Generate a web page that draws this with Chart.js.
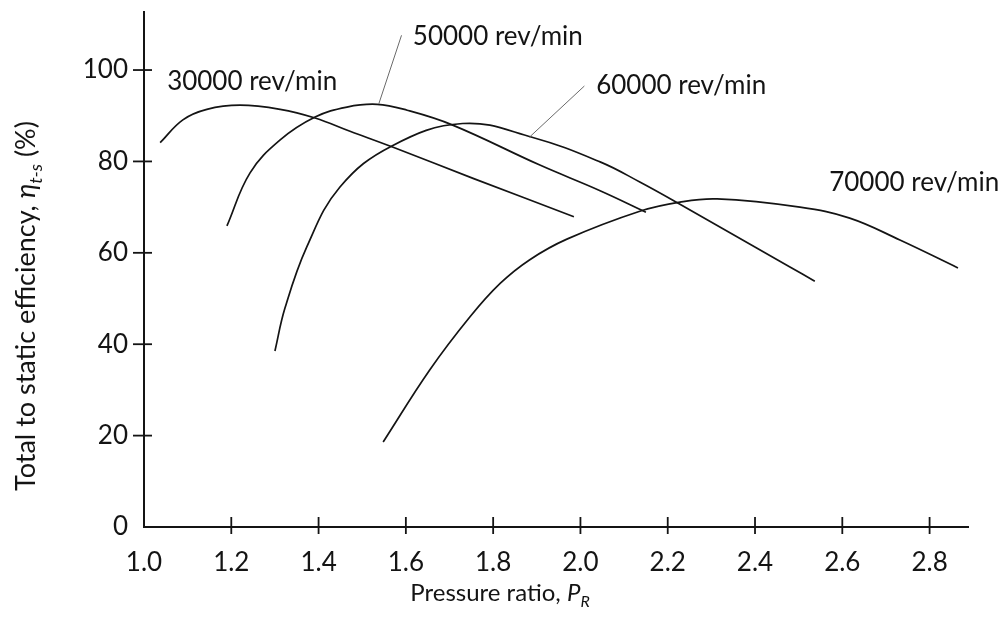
<!DOCTYPE html>
<html>
<head>
<meta charset="utf-8">
<script src="https://cdn.jsdelivr.net/npm/chart.js@4.4.1/dist/chart.umd.min.js"></script>
<style>
  html, body { margin: 0; padding: 0; background: #fff; }
  #wrap { width: 1008px; height: 629px; }
</style>
</head>
<body>
<div id="wrap"><canvas id="chart" width="1008" height="629"></canvas></div>
<script>
// Data: pressure ratio vs total-to-static efficiency (%)
const pr30000 = [1.037, 1.089, 1.144, 1.22, 1.312, 1.392, 1.472, 1.568, 1.754, 1.985];
const eff30000 = [84.1, 89.1, 91.4, 92.3, 91.4, 89.5, 86.6, 83.2, 76.3, 67.9];

const pr50000 = [1.19, 1.243, 1.312, 1.392, 1.465, 1.534, 1.603, 1.706, 1.907, 2.045, 2.15];
const eff50000 = [65.9, 77.5, 84.7, 89.7, 91.9, 92.5, 91.2, 88.0, 79.2, 73.6, 68.9];

const pr60000 = [1.30, 1.323, 1.373, 1.449, 1.568, 1.73, 1.889, 2.045, 2.136, 2.223, 2.48, 2.537];
const eff60000 = [38.5, 47.9, 61.3, 74.4, 83.4, 88.3, 85.3, 79.9, 75.5, 70.9, 56.9, 53.8];

const pr70000 = [1.548, 1.655, 1.747, 1.816, 1.884, 1.969, 2.136, 2.228, 2.313, 2.503, 2.617, 2.732, 2.865];
const eff70000 = [18.6, 34.4, 46.0, 53.3, 58.5, 63.0, 69.1, 71.1, 71.8, 70.0, 67.6, 62.8, 56.7];

const speedLabels = ['30000 rev/min', '50000 rev/min', '60000 rev/min', '70000 rev/min'];

const xTicks = [1.0, 1.2, 1.4, 1.6, 1.8, 2.0, 2.2, 2.4, 2.6, 2.8];
const yTicks = [0, 20, 40, 60, 80, 100];

const INK = '#141414';
const FONT = 'Lato, "Open Sans", sans-serif';

function toPoints(xs, ys) {
    return xs.map((x, i) => ({ x: x, y: ys[i] }));
}

function curve(xs, ys) {
    return {
        data: toPoints(xs, ys),
        showLine: true,
        borderColor: INK,
        borderWidth: 1.7,
        pointRadius: 0,
        tension: 0.4,
        fill: false
    };
}

// draw a run of text pieces (normal / italic / subscript) side by side
function drawRich(ctx, parts, x, y, align) {
    let total = 0;
    parts.forEach(p => {
        ctx.font = p.font;
        p.w = ctx.measureText(p.text).width;
        total += p.w;
    });
    let cx = align === 'center' ? x - total / 2 : x;
    parts.forEach(p => {
        ctx.font = p.font;
        ctx.fillText(p.text, cx, y + (p.dy || 0));
        cx += p.w;
    });
}

const decorations = {
    id: 'decorations',
    afterDraw(chart) {
        const ctx = chart.ctx;
        const xs = chart.scales.x;
        const ys = chart.scales.y;
        const area = chart.chartArea;
        ctx.save();

        // tick marks crossing the axis lines
        ctx.strokeStyle = INK;
        ctx.lineWidth = 1.8;
        xTicks.forEach(v => {
            if (v === 1.0) return;
            const px = xs.getPixelForValue(v);
            ctx.beginPath();
            ctx.moveTo(px, area.bottom - 10);
            ctx.lineTo(px, area.bottom + 7);
            ctx.stroke();
        });
        yTicks.forEach(v => {
            if (v === 0) return;
            const py = ys.getPixelForValue(v);
            ctx.beginPath();
            ctx.moveTo(area.left - 11, py);
            ctx.lineTo(area.left + 8, py);
            ctx.stroke();
        });

        // leader lines to the 50000 and 60000 curves
        ctx.strokeStyle = '#6a6a6a';
        ctx.lineWidth = 1;
        ctx.beginPath();
        ctx.moveTo(xs.getPixelForValue(1.590), ys.getPixelForValue(107.6));
        ctx.lineTo(xs.getPixelForValue(1.538), ys.getPixelForValue(92.6));
        ctx.moveTo(xs.getPixelForValue(2.009), ys.getPixelForValue(96.5));
        ctx.lineTo(xs.getPixelForValue(1.883), ys.getPixelForValue(85.3));
        ctx.stroke();

        // curve labels
        ctx.fillStyle = INK;
        ctx.textBaseline = 'middle';
        ctx.textAlign = 'left';
        ctx.font = '26px ' + FONT;
        ctx.fillText(speedLabels[0], xs.getPixelForValue(1.053), ys.getPixelForValue(97.4));
        ctx.fillText(speedLabels[1], xs.getPixelForValue(1.616), ys.getPixelForValue(107.4));
        ctx.fillText(speedLabels[2], xs.getPixelForValue(2.036), ys.getPixelForValue(96.5));
        ctx.fillText(speedLabels[3], xs.getPixelForValue(2.570), ys.getPixelForValue(75.3));

        // x axis title
        ctx.textBaseline = 'alphabetic';
        drawRich(ctx, [
            { text: 'Pressure ratio, ', font: '24px ' + FONT },
            { text: 'P', font: 'italic 24px ' + FONT },
            { text: 'R', font: 'italic 16px ' + FONT, dy: 6 }
        ], 500, 601, 'center');

        // y axis title, rotated
        ctx.translate(35, 306);
        ctx.rotate(-Math.PI / 2);
        drawRich(ctx, [
            { text: 'Total to static efficiency, ', font: '27px ' + FONT },
            { text: 'η', font: 'italic 27px ' + FONT },
            { text: 't-s', font: 'italic 18px ' + FONT, dy: 7 },
            { text: ' (%)', font: '27px ' + FONT }
        ], 0, 0, 'center');

        ctx.restore();
    }
};

const chart = new Chart(document.getElementById('chart').getContext('2d'), {
    type: 'scatter',
    data: {
        datasets: [
            curve(pr30000, eff30000),
            curve(pr50000, eff50000),
            curve(pr60000, eff60000),
            curve(pr70000, eff70000)
        ]
    },
    options: {
        responsive: false,
        animation: false,
        devicePixelRatio: 1,
        layout: { padding: { left: 0, right: 40, top: 12, bottom: 0 } },
        plugins: { legend: { display: false }, tooltip: { enabled: false } },
        scales: {
            x: {
                type: 'linear',
                min: 1.0,
                max: 2.888,
                afterBuildTicks: s => { s.ticks = xTicks.map(v => ({ value: v })); },
                afterFit: s => { s.height = 102; s.paddingLeft = 0; s.paddingRight = 0; },
                grid: { display: false, drawTicks: false },
                border: { display: true, color: INK, width: 2 },
                ticks: {
                    callback: v => v.toFixed(1),
                    font: { family: FONT, size: 26 },
                    color: INK,
                    padding: 20,
                    maxRotation: 0,
                    autoSkip: false
                }
            },
            y: {
                type: 'linear',
                min: 0,
                max: 112.7,
                afterBuildTicks: s => { s.ticks = yTicks.map(v => ({ value: v })); },
                afterFit: s => { s.width = 144; s.paddingTop = 0; s.paddingBottom = 0; },
                grid: { display: false, drawTicks: false },
                border: { display: true, color: INK, width: 2 },
                ticks: {
                    font: { family: FONT, size: 26 },
                    color: INK,
                    padding: 16
                }
            }
        }
    },
    plugins: [decorations]
});
</script>
</body>
</html>
